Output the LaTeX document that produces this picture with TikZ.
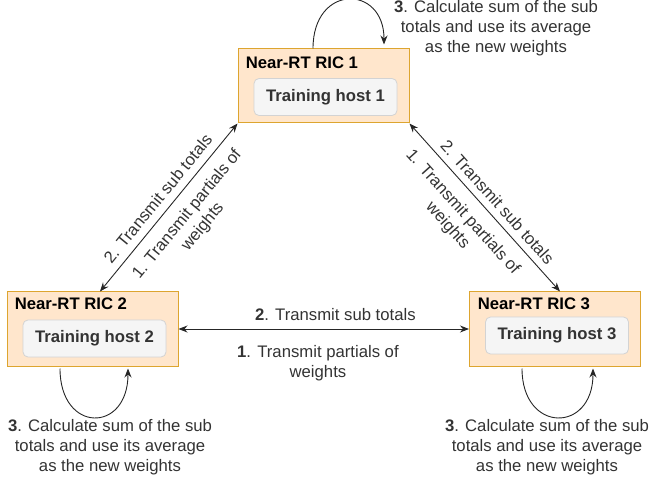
\documentclass[tikz,border=0pt]{standalone}
\usepackage{fontspec}
\setmainfont{Liberation Sans}
\usepackage{xcolor}
\usetikzlibrary{arrows.meta}
\definecolor{ricfill}{HTML}{FFE6CC}
\definecolor{ricdraw}{HTML}{DDA52F}
\definecolor{hostfill}{HTML}{F5F5F5}
\definecolor{hostdraw}{HTML}{D3D3D3}
\definecolor{txtgray}{HTML}{333333}
\tikzset{
	ric/.style={draw=ricdraw, fill=ricfill, line width=1pt,
			minimum width=171pt, minimum height=74pt},
	host/.style={draw=hostdraw, fill=hostfill, line width=0.8pt, rounded corners=5pt,
			minimum width=143pt, minimum height=37pt, font=\bfseries, text=txtgray},
	ricname/.style={anchor=west, font=\bfseries},
	note/.style={align=center, text=txtgray},
	link/.style={{Stealth[length=9pt,width=7pt]}-{Stealth[length=9pt,width=7pt]}, line width=0.9pt, draw=black!85},
	selfloop/.style={-{Stealth[length=9pt,width=7pt]}, line width=0.9pt, draw=black!85}
}

\begin{document}
\begin{tikzpicture}[x=1pt,y=1pt]
		\fontsize{16.7}{20}\selectfont
		\useasboundingbox (0,0) rectangle (650,482);

		% Near-RT RIC 1 (top)
		\node[ric] (ric1) at (323.5,396) {};
		\node[host] (host1) at (325.5,385) {Training host 1};
		\node[ricname] (ric1name) at (240,419) {Near-RT RIC 1};

		% Near-RT RIC 2 (bottom left)
		\node[ric] (ric2) at (92.5,153) {};
		\node[host] (host2) at (94.5,143.5) {Training host 2};
		\node[ricname] (ric2name) at (9,178) {Near-RT RIC 2};

		% Near-RT RIC 3 (bottom right)
		\node[ric] (ric3) at (555,153) {};
		\node[host] (host3) at (557,146.5) {Training host 3};
		\node[ricname] (ric3name) at (472,178) {Near-RT RIC 3};

		% links between the RICs
		\draw[link] ([xshift=7.5]ric2.north) -- (ric1.south west)
			node[pos=0.5, sloped, above=2pt, note] (lab21) {2. Transmit sub totals}
			node[pos=0.53, sloped, below=5pt, note] (lab11) {1. Transmit partials of\\weights};
		\draw[link] (ric1.south east) -- ([xshift=5]ric3.north)
			node[pos=0.52, sloped, above=1pt, note] (lab23) {2. Transmit sub totals}
			node[pos=0.45, sloped, below=6pt, note] (lab13) {1. Transmit partials of\\weights};
		\draw[link] (ric2.east) -- (ric3.west)
			node[pos=0.54, above=2pt, note] (labh2) {\textbf{2}. Transmit sub totals}
			node[pos=0.48, below=10pt, note] (labh1) {\textbf{1}. Transmit partials of\\weights};

		% averaging loops
		\draw[selfloop] ([xshift=-10.5]ric1.north) .. controls +(0,65) and +(0,60) .. ([xshift=60.5,yshift=4]ric1.north);
		\draw[selfloop] ([xshift=-32.5,yshift=-2]ric2.south) .. controls +(0,-65) and +(0,-65) .. ([xshift=35.5,yshift=-2]ric2.south);
		\draw[selfloop] ([xshift=-33,yshift=-2]ric3.south) .. controls +(0,-65) and +(0,-65) .. ([xshift=38,yshift=-2]ric3.south);

		% loop texts
		\node[note] (calc1) at (496,454) {\textbf{3}. Calculate sum of the sub\\totals and use its average\\as the new weights};
		\node[note] (calc2) at (110,35) {\textbf{3}. Calculate sum of the sub\\totals and use its average\\as the new weights};
		\node[note] (calc3) at (547,35) {\textbf{3}. Calculate sum of the sub\\totals and use its average\\as the new weights};
	\end{tikzpicture}
\end{document}
